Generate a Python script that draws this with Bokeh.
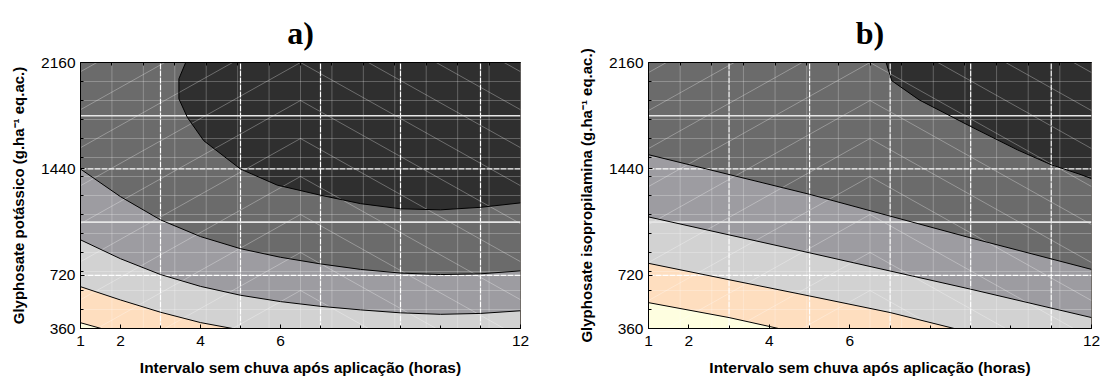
import numpy as np
from bokeh.plotting import figure
from bokeh.layouts import row
from bokeh.models import Range1d, FixedTicker, LinearAxis
from bokeh.embed import file_html
from bokeh.resources import INLINE

# ---------------- data ----------------
X_MIN, X_MAX = 1, 12
Y_MIN, Y_MAX = 360, 2160
X_TICKS = [1, 2, 4, 6, 12]
X_MINOR_TICKS = [1, 2, 3, 4, 5, 6, 7, 8, 9, 10, 11, 12]
Y_TICKS = [360, 720, 1440, 2160]
X_GRID = [3, 5, 7, 9, 11]
Y_GRID_DASHED = [720, 1440]
Y_GRID_SOLID = [1080, 1800]

# fill colours from lowest to highest level
LEVEL_COLORS = ["#fefee0", "#fedebf", "#d2d2d2", "#9d9ca1", "#6b6b6b", "#2f2f2f"]

# panel a) contour boundaries, lowest level first
A_C1_X = [1.0, 1.52]
A_C1_Y = [399, 360]
A_C2_X = [1.0, 2.0, 3.0, 4.0, 4.8]
A_C2_Y = [643, 553, 470, 400, 360]
A_C3_X = [1, 2, 3, 4, 5, 6, 7, 8, 9, 10, 11, 12]
A_C3_Y = [960, 832, 725, 645, 585, 542, 510, 486, 466, 456, 462, 480]
A_C4_X = [1, 2, 3, 4, 5, 6, 7, 8, 9, 10, 11, 12]
A_C4_Y = [1439, 1252, 1095, 982, 900, 842, 797, 760, 735, 725, 730, 750]
A_C5_X = [3.63, 3.46, 3.46, 3.67, 4.08, 5.0, 5.92, 7, 8, 9, 10, 11, 12]
A_C5_Y = [2160, 2050, 1914, 1789, 1631, 1439, 1330, 1262, 1205, 1170, 1163, 1180, 1210]

# panel b) contour boundaries, lowest level first
B_C1_X = [1.0, 3.0, 4.23]
B_C1_Y = [535, 434, 360]
B_C2_X = [1, 3, 5, 7, 8.59]
B_C2_Y = [801, 690, 580, 468, 360]
B_C3_X = [1, 5, 9, 12]
B_C3_Y = [1115, 872, 626, 434]
B_C4_X = [1, 5, 9, 12]
B_C4_Y = [1536, 1268, 973, 760]
B_C5_X = [6.9, 7.04, 7.72, 9.0, 10.16, 11.0, 11.74, 12]
B_C5_Y = [2160, 2037, 1907, 1727, 1569, 1468, 1401, 1374]

TITLE_A = "a)"
TITLE_B = "b)"
XLABEL = "Intervalo sem chuva após aplicação (horas)"
YLABEL_A = "Glyphosate potássico (g.ha\u207b\u00b9 eq.ac.)"
YLABEL_B = "Glyphosate isopropilamina (g.ha\u207b\u00b9 eq.ac.)"

# ---------------- helpers ----------------
EPS = 1e-6


def perim(x, y):
    if y <= Y_MIN + EPS:
        return (x - X_MIN) / (X_MAX - X_MIN)
    if x >= X_MAX - EPS:
        return 1 + (y - Y_MIN) / (Y_MAX - Y_MIN)
    if y >= Y_MAX - EPS:
        return 2 + (X_MAX - x) / (X_MAX - X_MIN)
    return 3 + (Y_MAX - y) / (Y_MAX - Y_MIN)


CORNERS = [(X_MIN, Y_MIN), (X_MAX, Y_MIN), (X_MAX, Y_MAX), (X_MIN, Y_MAX)]


def region(xs, ys):
    p_end = perim(xs[-1], ys[-1])
    p_start = perim(xs[0], ys[0])
    if p_start <= p_end:
        p_start += 4
    px, py = list(xs), list(ys)
    for c in range(0, 8):
        if p_end < c < p_start:
            cx, cy = CORNERS[c % 4]
            px.append(cx)
            py.append(cy)
    return px, py


FONT = "Liberation Sans"
FIG_H = 383
BORDER_TOP = 62
BORDER_BOTTOM = 55
FRAME_H = FIG_H - BORDER_TOP - BORDER_BOTTOM


def make_panel(title, ylabel, curves, width, left_border, right_border):
    p = figure(width=width, height=FIG_H,
               x_range=Range1d(X_MIN, X_MAX), y_range=Range1d(Y_MIN, Y_MAX),
               output_backend="svg", toolbar_location=None,
               min_border_left=left_border, min_border_right=right_border,
               min_border_top=BORDER_TOP, min_border_bottom=BORDER_BOTTOM)
    frame_w = width - left_border - right_border
    p.grid.visible = False
    p.background_fill_color = LEVEL_COLORS[0]
    p.border_fill_color = "white"
    p.outline_line_color = "black"
    p.outline_line_width = 1

    for i, (xs, ys) in enumerate(curves):
        px, py = region(xs, ys)
        p.patch(px, py, fill_color=LEVEL_COLORS[i + 1], line_color=None)

    # faint minor grid (14 x 14)
    n = 14
    vx = [X_MIN + (X_MAX - X_MIN) * k / n for k in range(1, n)]
    hy = [Y_MIN + (Y_MAX - Y_MIN) * k / n for k in range(1, n)]
    p.segment(x0=vx, y0=[Y_MIN] * len(vx), x1=vx, y1=[Y_MAX] * len(vx),
              line_color="white", line_alpha=0.25, line_width=1)
    p.segment(x0=[X_MIN] * len(hy), y0=hy, x1=[X_MAX] * len(hy), y1=hy,
              line_color="white", line_alpha=0.25, line_width=1)

    # chevron hatch
    xc = (X_MIN + X_MAX) / 2
    s_px = 0.56
    s_data = s_px * ((Y_MAX - Y_MIN) / FRAME_H) / ((X_MAX - X_MIN) / frame_w)
    step = 2 * (Y_MAX - Y_MIN) / n
    drop = s_data * (xc - X_MIN)
    tips = [Y_MAX - step * j for j in range(-8, 12)]
    x0 = [xc] * len(tips) * 2
    y0 = tips + tips
    x1 = [X_MIN] * len(tips) + [X_MAX] * len(tips)
    y1 = [t - drop for t in tips] * 2
    p.segment(x0=x0, y0=y0, x1=x1, y1=y1, line_color="white", line_alpha=0.3, line_width=1)

    # major white grid
    p.segment(x0=X_GRID, y0=[Y_MIN] * len(X_GRID), x1=X_GRID, y1=[Y_MAX] * len(X_GRID),
              line_color="white", line_width=1.2, line_dash="6 1")
    p.segment(x0=[X_MIN] * len(Y_GRID_DASHED), y0=Y_GRID_DASHED, x1=[X_MAX] * len(Y_GRID_DASHED),
              y1=Y_GRID_DASHED, line_color="white", line_width=1.2, line_dash="6 1")
    p.segment(x0=[X_MIN] * len(Y_GRID_SOLID), y0=Y_GRID_SOLID, x1=[X_MAX] * len(Y_GRID_SOLID),
              y1=Y_GRID_SOLID, line_color="#e6e6e6", line_width=1.6)

    # contour lines
    for xs, ys in curves:
        p.line(xs, ys, line_color="black", line_width=1)

    # axes
    p.xaxis.ticker = FixedTicker(ticks=X_TICKS, minor_ticks=X_MINOR_TICKS)
    p.yaxis.ticker = FixedTicker(ticks=Y_TICKS, minor_ticks=hy)
    for ax in (p.xaxis[0], p.yaxis[0]):
        ax.axis_line_color = "black"
        ax.major_tick_in = 4
        ax.major_tick_out = 0
        ax.minor_tick_in = 3
        ax.minor_tick_out = 0
        ax.major_tick_line_color = "black"
        ax.minor_tick_line_color = "black"
        ax.major_label_text_font = FONT
        ax.major_label_text_font_size = "15.5px"
        ax.major_label_text_color = "black"
        ax.axis_label_text_font = FONT
        ax.axis_label_text_font_style = "bold"
        ax.axis_label_text_color = "black"
    p.xaxis.axis_label = XLABEL
    p.xaxis.axis_label_text_font_size = "15.5px"
    p.xaxis.major_label_standoff = 7
    p.xaxis.axis_label_standoff = 10
    p.yaxis.axis_label = ylabel
    p.yaxis.axis_label_text_font_size = "15px"
    p.yaxis.major_label_standoff = 5
    p.yaxis.axis_label_standoff = 11

    top = LinearAxis(ticker=FixedTicker(ticks=vx))
    top.major_label_text_font_size = "0px"
    top.major_tick_in = 3
    top.major_tick_out = 0
    top.minor_tick_in = 0
    top.minor_tick_out = 0
    top.major_label_standoff = 0
    top.axis_line_color = "black"
    p.add_layout(top, "above")

    p.title.text = title
    p.title.align = "center"
    p.title.text_font = "Liberation Serif"
    p.title.text_font_style = "bold"
    p.title.text_font_size = "32px"
    p.title.text_color = "black"
    p.title.standoff = 24
    return p


pa = make_panel(TITLE_A, YLABEL_A,
                [(A_C1_X, A_C1_Y), (A_C2_X, A_C2_Y), (A_C3_X, A_C3_Y), (A_C4_X, A_C4_Y), (A_C5_X, A_C5_Y)],
                width=560, left_border=80, right_border=40)
pb = make_panel(TITLE_B, YLABEL_B,
                [(B_C1_X, B_C1_Y), (B_C2_X, B_C2_Y), (B_C3_X, B_C3_Y), (B_C4_X, B_C4_Y), (B_C5_X, B_C5_Y)],
                width=545, left_border=88, right_border=14)

layout = row(pa, pb)
open("out.html", "w").write(file_html(layout, INLINE))
